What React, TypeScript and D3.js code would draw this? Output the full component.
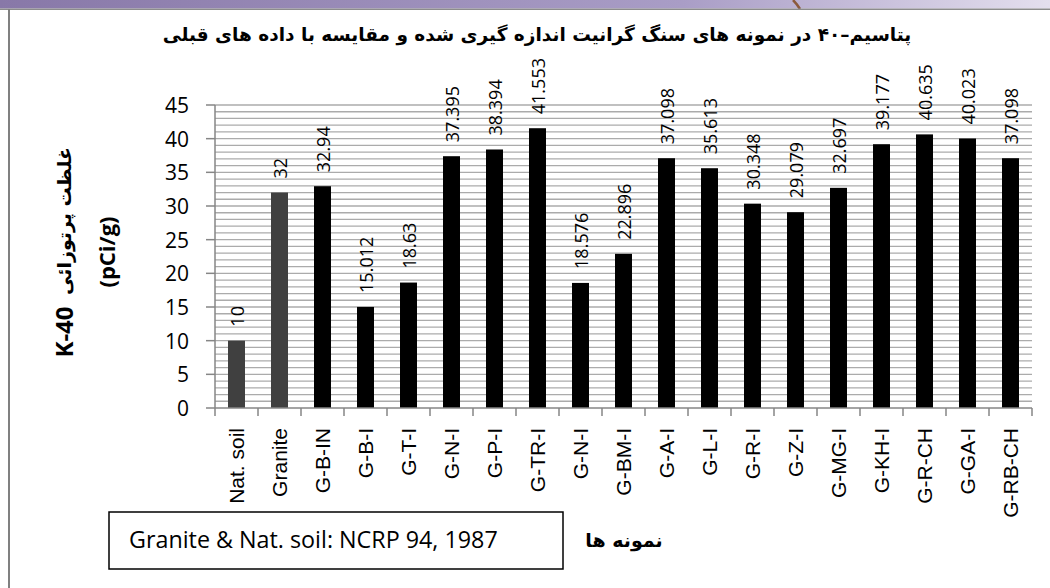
import React from "react";
import * as d3 from "d3";

// sample names (note: G-N-I appears twice in the source chart)
const samples = ["Nat. soil", "Granite", "G-B-IN", "G-B-I", "G-T-I", "G-N-I", "G-P-I", "G-TR-I", "G-N-I", "G-BM-I", "G-A-I", "G-L-I", "G-R-I", "G-Z-I", "G-MG-I", "G-KH-I", "G-R-CH", "G-GA-I", "G-RB-CH"];
const k40 = [10, 32, 32.94, 15.012, 18.63, 37.395, 38.394, 41.553, 18.576, 22.896, 37.098, 35.613, 30.348, 29.079, 32.697, 39.177, 40.635, 40.023, 37.098];
const yTicks = [0, 5, 10, 15, 20, 25, 30, 35, 40, 45];

const title = "پتاسیم–۴۰ در نمونه های سنگ گرانیت اندازه گیری شده و مقایسه با داده های قبلی";
const yTitleFa = "غلظت پرتوزائی";
const yTitleEn = "K-40";
const yUnit = "(pCi/g)";
const xTitle = "نمونه ها";
const note = "Granite & Nat. soil: NCRP 94, 1987";

const W = 1050, H = 588;
const plot = { left: 215, right: 1032, top: 105, bottom: 408 };

function App() {
  const idx = samples.map((_, i) => i);
  const x = d3.scaleBand<number>()
    .domain(idx)
    .range([plot.left, plot.right])
    .paddingInner(0.605)
    .paddingOuter(0.3025);
  const y = d3.scaleLinear().domain([0, 45]).range([plot.bottom, plot.top]);
  const step = x.step();
  const grid = d3.range(1, 46);
  const cx = (i: number) => (x(i) as number) + x.bandwidth() / 2;

  return (
    <svg width={W} height={H} style={{ position: "absolute", left: 0, top: 0, background: "#fff" }}>
      <defs>
        <linearGradient id="band" x1="0" x2="1" y1="0" y2="0">
          <stop offset="0" stopColor="#8878a8" />
          <stop offset="0.65" stopColor="#a99dc6" />
          <stop offset="1" stopColor="#e4dfee" />
        </linearGradient>
      </defs>
      {/* slide frame */}
      <rect x={0} y={0} width={W} height={8.5} fill="url(#band)" />
      <path d="M793,0 Q797,4 800,9" stroke="#8b5a3c" strokeWidth={2.5} fill="none" />
      <line x1={0} x2={W} y1={9.3} y2={9.3} stroke="#8c8c8c" strokeWidth={1.6} />
      <line x1={9} x2={9} y1={9} y2={H} stroke="#808080" strokeWidth={2} />

      <text x={537} y={41} textAnchor="middle" fontFamily="DejaVu Sans" fontWeight="bold" fontSize={18.5} direction="rtl">{title}</text>

      {/* gridlines */}
      {grid.map(v => (
        <line key={v} x1={plot.left} x2={plot.right} y1={y(v)} y2={y(v)} stroke="#ababab" strokeWidth={1.3} />
      ))}

      {/* bars */}
      {k40.map((v, i) => (
        <rect key={i} x={x(i)} y={y(v)} width={x.bandwidth()} height={y(0) - y(v)}
          fill={i < 2 ? "#404040" : "#000"} />
      ))}

      {/* value labels */}
      {k40.map((v, i) => (
        <text key={i} transform={`translate(${cx(i)},${y(v) - 14}) rotate(-90)`} dominantBaseline="central"
          fontFamily="Open Sans" fontSize={18} fill="#000">{String(v)}</text>
      ))}

      {/* axes */}
      <line x1={plot.left} x2={plot.left} y1={plot.top} y2={plot.bottom} stroke="#868686" strokeWidth={1.5} />
      <line x1={plot.left} x2={plot.right} y1={plot.bottom} y2={plot.bottom} stroke="#868686" strokeWidth={1.5} />
      {yTicks.map(t => (
        <g key={t}>
          <line x1={plot.left - 9} x2={plot.left} y1={y(t)} y2={y(t)} stroke="#868686" strokeWidth={1.5} />
          <text x={189} y={y(t)} textAnchor="end" dominantBaseline="central" fontFamily="Open Sans" fontSize={21}>{t}</text>
        </g>
      ))}
      {d3.range(0, samples.length + 1).map(i => (
        <line key={i} x1={plot.left + i * step} x2={plot.left + i * step} y1={plot.bottom} y2={plot.bottom + 8} stroke="#868686" strokeWidth={1.5} />
      ))}
      {samples.map((s, i) => (
        <text key={i} transform={`translate(${cx(i)},428) rotate(-90)`} textAnchor="end" dominantBaseline="central"
          fontFamily="Liberation Sans" fontSize={21}>{s}</text>
      ))}

      {/* y title */}
      <text transform="translate(63,332) rotate(-90)" textAnchor="middle" dominantBaseline="central"
        fontFamily="Open Sans" fontWeight="bold" fontSize={24}>{yTitleEn}</text>
      <text transform="translate(64,221) rotate(-90)" textAnchor="middle" dominantBaseline="central"
        fontFamily="DejaVu Sans" fontWeight="bold" fontSize={19} direction="rtl">{yTitleFa}</text>
      <text transform="translate(106,252) rotate(-90)" textAnchor="middle" dominantBaseline="central"
        fontFamily="Open Sans" fontWeight="bold" fontSize={22}>{yUnit}</text>

      {/* note box */}
      <rect x={109} y={512} width={454} height={57} fill="#fff" stroke="#000" strokeWidth={1.5} />
      <text x={129} y={548} fontFamily="Open Sans" fontSize={23.3}>{note}</text>

      <text x={624} y={547} textAnchor="middle" fontFamily="DejaVu Sans" fontWeight="bold" fontSize={19} direction="rtl">{xTitle}</text>
    </svg>
  );
}

export default App;
